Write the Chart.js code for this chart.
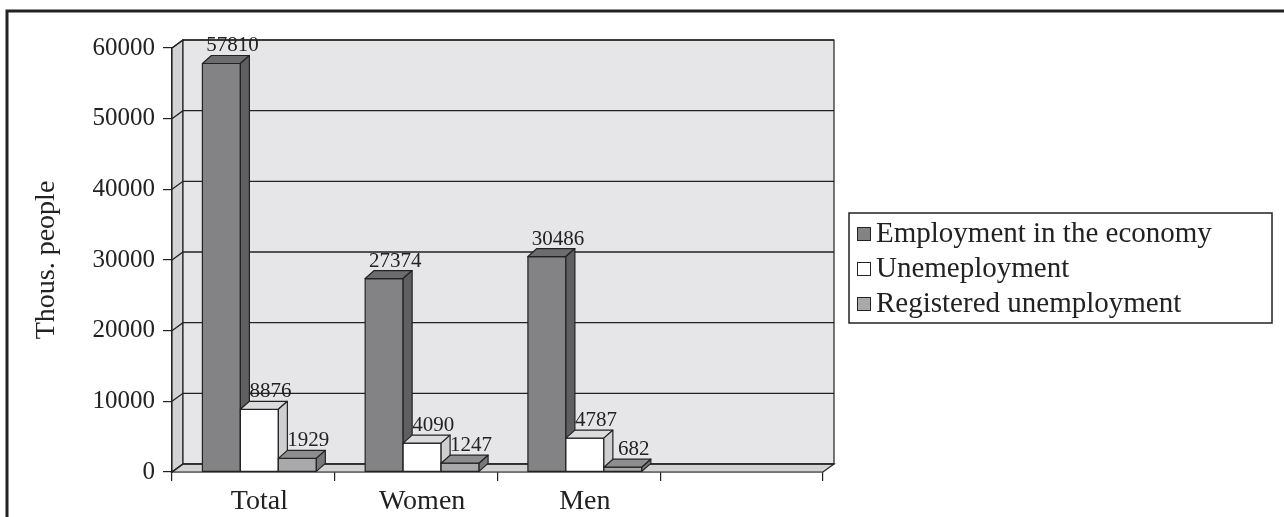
<!DOCTYPE html>
<html>
<head>
<meta charset="utf-8">
<title>Employment and unemployment</title>
<script src="https://cdn.jsdelivr.net/npm/chart.js@4/dist/chart.umd.min.js"></script>
<style>
  html, body { margin: 0; padding: 0; background: #fff; }
  canvas { display: block; }
</style>
</head>
<body>
<canvas id="chart" width="1284" height="517"></canvas>
<script>
// Chart data
const categories = ['Total', 'Women', 'Men', ''];
const employment = [57810, 27374, 30486, null];
const unemployment = [8876, 4090, 4787, null];
const registered = [1929, 1247, 682, null];
const seriesNames = ['Employment in the economy', 'Unemeployment', 'Registered unemployment'];
const yMin = 0;
const yMax = 60000;
const yStep = 10000;
const yTitle = 'Thous. people';

// Face colours for each series: front, top, side
const faces = [
  { front: '#838385', top: '#6c6c6e', side: '#5f5f61' },
  { front: '#ffffff', top: '#dcdcde', side: '#cfcfd1' },
  { front: '#a9a9ab', top: '#8d8d8f', side: '#78787a' }
];

const FONT = '"Liberation Serif", "Times New Roman", serif';
const INK = '#222';
const WALL = { dx: 11, dy: -8 };   // depth of walls/floor
const BAR = { dx: 9, dy: -8, shift: 6 }; // depth of bars, offset of bar block

function poly(ctx, pts, fill) {
  ctx.beginPath();
  ctx.moveTo(pts[0][0], pts[0][1]);
  for (let i = 1; i < pts.length; i++) ctx.lineTo(pts[i][0], pts[i][1]);
  ctx.closePath();
  if (fill) {
    ctx.fillStyle = fill;
    ctx.fill();
  }
  ctx.stroke();
}

const threeD = {
  id: 'threeD',
  beforeDatasetsDraw(chart) {
    const { ctx, chartArea: a, scales } = chart;
    const L = a.left, R = a.right, T = a.top, B = a.bottom;
    const dx = WALL.dx, dy = WALL.dy;
    ctx.save();
    ctx.strokeStyle = INK;
    ctx.lineWidth = 1.2;
    // side wall
    poly(ctx, [[L, B], [L, T], [L + dx, T + dy], [L + dx, B + dy]], '#d3d3d5');
    // back wall
    poly(ctx, [[L + dx, T + dy], [R + dx, T + dy], [R + dx, B + dy], [L + dx, B + dy]], '#e6e6e8');
    // floor
    poly(ctx, [[L, B], [R, B], [R + dx, B + dy], [L + dx, B + dy]], '#d3d3d5');
    // gridlines on back wall + diagonals on side wall
    ctx.lineWidth = 1.3;
    scales.y.ticks.forEach(t => {
      const y = scales.y.getPixelForValue(t.value);
      ctx.beginPath();
      ctx.moveTo(L, y);
      ctx.lineTo(L + dx, y + dy);
      ctx.lineTo(R + dx, y + dy);
      ctx.stroke();
    });
    ctx.restore();
  },
  afterDatasetsDraw(chart) {
    const { ctx } = chart;
    const metas = chart.data.datasets.map((d, i) => chart.getDatasetMeta(i));
    ctx.save();
    ctx.strokeStyle = INK;
    ctx.lineWidth = 1.2;
    ctx.lineJoin = 'round';
    for (let c = 0; c < categories.length; c++) {
      metas.forEach((meta, s) => {
        const v = chart.data.datasets[s].data[c];
        if (v === null || v === undefined) return;
        const el = meta.data[c];
        const x0 = el.x - el.width / 2 + BAR.shift;
        const x1 = el.x + el.width / 2 + BAR.shift;
        const top = el.y, bot = el.base;
        const f = faces[s];
        poly(ctx, [[x0, top], [x1, top], [x1, bot], [x0, bot]], f.front);
        poly(ctx, [[x0, top], [x1, top], [x1 + BAR.dx, top + BAR.dy], [x0 + BAR.dx, top + BAR.dy]], f.top);
        poly(ctx, [[x1, top], [x1 + BAR.dx, top + BAR.dy], [x1 + BAR.dx, bot + BAR.dy], [x1, bot]], f.side);
      });
    }
    // value labels
    ctx.fillStyle = INK;
    ctx.font = '21px ' + FONT;
    ctx.textAlign = 'center';
    ctx.textBaseline = 'alphabetic';
    metas.forEach((meta, s) => {
      meta.data.forEach((el, c) => {
        const v = chart.data.datasets[s].data[c];
        if (v === null || v === undefined) return;
        ctx.fillText(String(v), el.x + BAR.shift + 11, el.y + BAR.dy - 4);
      });
    });
    ctx.restore();
  },
  afterDraw(chart) {
    const { ctx } = chart;
    ctx.save();
    // legend box
    const lx = 849, ly = 213, lw = 423, lh = 110;
    ctx.strokeStyle = INK;
    ctx.lineWidth = 1.5;
    ctx.strokeRect(lx, ly, lw, lh);
    ctx.font = '29px ' + FONT;
    ctx.textAlign = 'left';
    ctx.textBaseline = 'alphabetic';
    seriesNames.forEach((name, i) => {
      const base = 242 + i * 35;
      ctx.fillStyle = faces[i].front;
      ctx.lineWidth = 1;
      ctx.fillRect(857.5, base - 14.5, 13, 13);
      ctx.strokeRect(857.5, base - 14.5, 13, 13);
      ctx.fillStyle = INK;
      ctx.fillText(name, 876, base);
    });
    // outer frame (cropped on right and bottom)
    ctx.lineWidth = 3;
    ctx.beginPath();
    ctx.moveTo(7, 520);
    ctx.lineTo(7, 11);
    ctx.lineTo(1290, 11);
    ctx.stroke();
    ctx.restore();
  }
};

new Chart(document.getElementById('chart'), {
  type: 'bar',
  data: {
    labels: categories,
    datasets: [
      { label: seriesNames[0], data: employment },
      { label: seriesNames[1], data: unemployment },
      { label: seriesNames[2], data: registered }
    ].map(d => ({
      ...d,
      backgroundColor: 'rgba(0,0,0,0)',
      borderWidth: 0,
      categoryPercentage: 0.7,
      barPercentage: 1
    }))
  },
  options: {
    responsive: false,
    animation: false,
    devicePixelRatio: 1,
    layout: { padding: { left: 20, right: 461, top: 48, bottom: 0 } },
    plugins: {
      legend: { display: false },
      tooltip: { enabled: false }
    },
    scales: {
      x: {
        afterFit: s => { s.height = 45; },
        grid: { offset: true, drawOnChartArea: false, drawTicks: true, tickLength: 9, color: INK, lineWidth: 1.2 },
        border: { display: true, color: INK, width: 1.2 },
        ticks: {
          color: INK,
          padding: 4,
          labelOffset: BAR.shift,
          font: { family: FONT, size: 28 },
          maxRotation: 0,
          autoSkip: false
        }
      },
      y: {
        min: yMin,
        max: yMax,
        afterFit: s => { s.width = 152; },
        grid: { drawOnChartArea: false, drawTicks: true, tickLength: 9, color: INK, lineWidth: 1.2 },
        border: { display: true, color: INK, width: 1.2 },
        ticks: {
          stepSize: yStep,
          color: INK,
          padding: 8,
          font: { family: FONT, size: 25 },
          callback: v => String(v)
        },
        title: {
          display: true,
          text: yTitle,
          color: INK,
          padding: 10,
          font: { family: FONT, size: 28 }
        }
      }
    }
  },
  plugins: [threeD]
});
</script>
</body>
</html>
